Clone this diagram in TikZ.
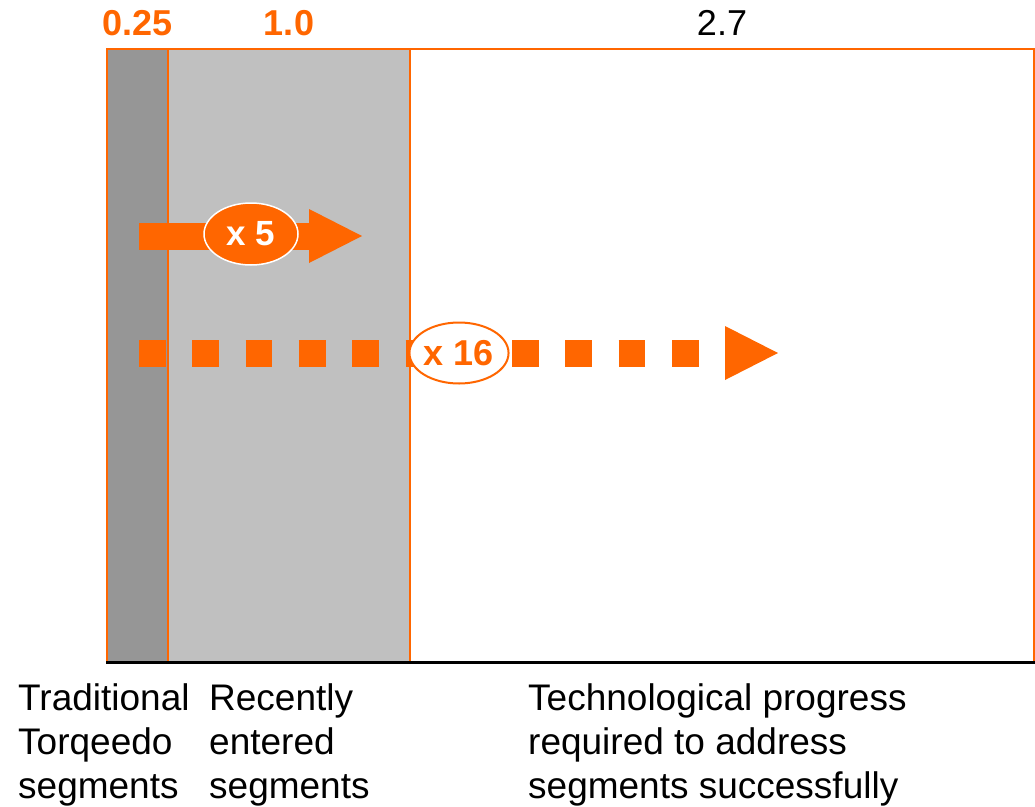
\documentclass[tikz,border=0pt]{standalone}
\usepackage{fontspec}
\setmainfont{Liberation Sans}
\usetikzlibrary{arrows.meta,shapes.geometric}
\definecolor{tqorange}{RGB}{255,102,0}
\definecolor{darkcol}{RGB}{150,150,150}
\definecolor{lightcol}{RGB}{192,192,192}
\begin{document}
\begin{tikzpicture}[x=1pt,y=-1pt,
  toplabel/.style={anchor=base,inner sep=0pt,font=\fontsize{36}{43}\selectfont},
  hilabel/.style={toplabel,text=tqorange,font=\fontsize{36}{43}\selectfont\bfseries},
  colborder/.style={draw=tqorange,line width=2pt},
  bigarrow/.style={tqorange,line width=27pt,-{Triangle[length=53pt,width=54pt,line width=0pt]}},
  caption/.style={anchor=base west,inner sep=0pt,align=left,font=\fontsize{37}{44}\selectfont}]
\useasboundingbox (0,0) rectangle (1035,806);
% columns
\fill[darkcol] (107,49) rectangle (168,662);
\fill[lightcol] (168,49) rectangle (410,662);
\draw[colborder] (107,662) -- (107,49) -- (1034,49) -- (1034,662);
\draw[colborder] (168,49) -- (168,662);
\draw[colborder] (410,49) -- (410,662);
\draw[black,line width=3pt] (106,662) -- (1035,662);
% top labels
\node[hilabel] (l1) at (137.5,35) {0.25};
\node[hilabel] (l2) at (289,35) {1.0};
\node[toplabel] (l3) at (722,35) {2.7};
% solid arrow
\coordinate (s1) at (139,236);
\coordinate (e1) at (362,236);
\draw[bigarrow] (s1) -- (e1);
\node[ellipse,fill=tqorange,draw=white,line width=1.5pt,minimum width=94pt,minimum height=62pt,inner sep=0pt,text=white,font=\fontsize{35}{40}\selectfont\bfseries] (x5) at (251,234) {x 5};
% dotted arrow
\coordinate (s2) at (139,353);
\coordinate (e2) at (778,353);
\draw[bigarrow,dash pattern=on 26.7pt off 26.6pt] (s2) -- (e2);
\node[ellipse,fill=white,draw=tqorange,line width=2pt,minimum width=92pt,minimum height=61pt,inner sep=0pt,text=tqorange,font=\fontsize{36}{40}\selectfont\bfseries] (x16) at (459,353) {x 16};
% captions (anchor = baseline of last line)
\node[caption] (c1) at (18,798) {Traditional\\Torqeedo\\segments};
\node[caption] (c2) at (209,798) {Recently\\entered\\segments};
\node[caption] (c3) at (528,798) {Technological progress\\required to address\\segments successfully};
\end{tikzpicture}
\end{document}
